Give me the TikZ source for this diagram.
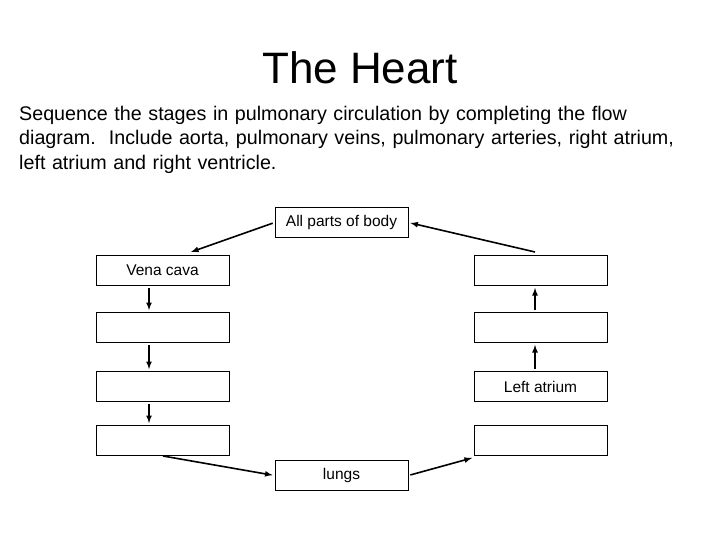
\documentclass[tikz,border=0pt]{standalone}
\usepackage{fontspec}
\setmainfont{Liberation Sans}
\begin{document}
\begin{tikzpicture}[x=1pt,y=-1pt,
  box/.style={draw,line width=0.8pt,minimum width=133pt,minimum height=30pt,inner sep=0pt,font=\fontsize{15.5}{17}\selectfont},
  arr/.style={-latex,line width=1.6pt,shorten >=2pt,shorten <=2pt}]
\useasboundingbox (0,0) rectangle (720,540);
\node[font=\fontsize{44}{48}\selectfont] (title) at (360,68) {The Heart};
\node[anchor=north west,align=left,text width=700pt,font=\fontsize{19.7}{24.5}\selectfont,inner sep=0pt] (intro) at (19,106)
 {Sequence the stages in pulmonary circulation by completing the flow\\diagram.\ \ Include aorta, pulmonary veins, pulmonary arteries, right atrium,\\left atrium and right ventricle.};
\node[box] (body) at (341.5,222.5) {All parts of body};
\node[box] (l1) at (162.5,270.5) {Vena cava};
\node[box] (l2) at (162.5,327.5) {};
\node[box] (l3) at (162.5,386.5) {};
\node[box] (l4) at (162.5,440.5) {};
\node[box] (r1) at (540.5,270.5) {};
\node[box] (r2) at (540.5,327.5) {};
\node[box] (r3) at (540.5,386.5) {Left atrium};
\node[box] (r4) at (540.5,440.5) {};
\node[box] (lungs) at (341.5,475.5) {lungs};
\coordinate (a1) at (191,252);
\coordinate (a2) at (535,252);
\coordinate (b1) at (163,456);
\coordinate (b2) at (472,458);
\draw[arr,shorten >=0pt] (body.west) -- (a1);
\draw[arr,shorten <=0pt] (a2) -- (body.east);
\draw[arr] (l1.south -| 149,0) -- (l2.north -| 149,0);
\draw[arr] (l2.south -| 149,0) -- (l3.north -| 149,0);
\draw[arr] (l3.south -| 149,0) -- (l4.north -| 149,0);
\draw[arr] (r3.north -| 535,0) -- (r2.south -| 535,0);
\draw[arr] (r2.north -| 535,0) -- (r1.south -| 535,0);
\draw[arr,shorten <=0pt] (b1) -- (lungs.west);
\draw[arr,shorten >=0pt] (lungs.east) -- (b2);
\end{tikzpicture}
\end{document}
